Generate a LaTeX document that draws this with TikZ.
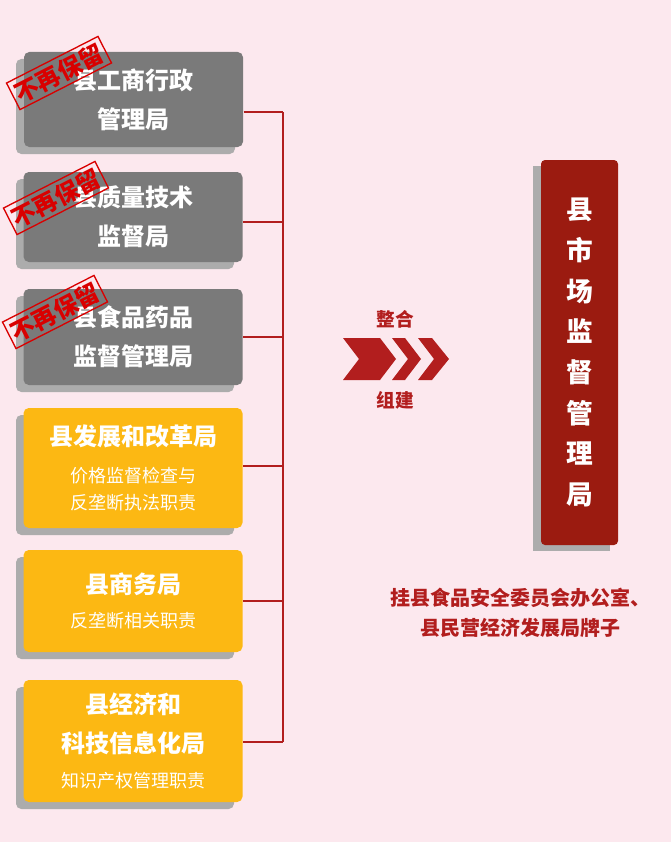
\documentclass[tikz,border=0pt]{standalone}
\usepackage{fontspec}
\newfontfamily\cjk{Noto Sans CJK SC}
\usetikzlibrary{positioning}
\definecolor{bgpink}{RGB}{252,232,238}
\definecolor{oldgray}{RGB}{122,122,122}
\definecolor{shadowgray}{RGB}{172,172,172}
\definecolor{deptyellow}{RGB}{252,184,19}
\definecolor{marketred}{RGB}{155,27,16}
\definecolor{linered}{RGB}{178,30,30}
\newcommand\dutysize{\mdseries\fontsize{13.5}{18}\selectfont}
\tikzset{
	oldbox/.style={rounded corners=4pt, fill=oldgray, text=white, minimum width=164.25pt, align=center, font=\cjk\bfseries\fontsize{18}{29}\selectfont},
	newbox/.style={oldbox, fill=deptyellow},
	boxshadow/.style={rounded corners=4pt, fill=shadowgray},
	stamp/.style={draw=red!85!black, line width=1pt, text=red!85!black, rotate=27, inner sep=2.5pt, font=\cjk\bfseries\fontsize{18}{18}\selectfont},
	bus/.style={draw=linered, line width=1.5pt}}
\tikzset{every picture/.style={line width=0.75pt}}

\begin{document}
\begin{tikzpicture}[x=0.75pt,y=0.75pt,yscale=-1,xscale=1]
	%background
	\fill[bgpink] (0,0) rectangle (671,842);
	\useasboundingbox (0,0) rectangle (671,842);

	%shadows
	\fill[boxshadow] (16,59) rectangle (235,154);
	\fill[boxshadow] (16,179) rectangle (234,269);
	\fill[boxshadow] (16,296) rectangle (234,392);
	\fill[boxshadow] (16,415) rectangle (234,535);
	\fill[boxshadow] (16,557) rectangle (234,659);
	\fill[boxshadow] (16,687) rectangle (234,809);
	\fill[shadowgray] (533,166) rectangle (610,551);

	%old departments
	\node[oldbox, minimum height=71.25pt] (gongshang) at (133.5,99.5) {县工商行政\\管理局};
	\node[oldbox, minimum height=67.5pt] (zhiliang) at (133,217) {县质量技术\\监督局};
	\node[oldbox, minimum height=72pt] (shiyao) at (133,337) {县食品药品\\监督管理局};

	%yellow departments
	\node[newbox, minimum height=90pt] (fagai) at (133,468) {县发展和改革局\\[-1pt]\dutysize 价格监督检查与\\[-9pt]\dutysize 反垄断执法职责};
	\node[newbox, minimum height=76.5pt] (shangwu) at (133,601) {县商务局\\[-3pt]\dutysize 反垄断相关职责};
	\node[newbox, minimum height=91.5pt] (jingxin) at (133,741) {县经济和\\科技信息化局\\[-3pt]\dutysize 知识产权管理职责};

	%stamps
	\node[stamp] (stampA) at (59,73) {不再保留};
	\node[stamp] (stampB) at (56,198) {不再保留};
	\node[stamp] (stampC) at (55,312) {不再保留};

	%bus
	\coordinate (busTop) at (283,112);
	\coordinate (busBot) at (283,742);
	\draw[bus] (busTop) -- (busBot);
	\foreach \dept/\yy in {gongshang/112, zhiliang/222, shiyao/337, fagai/466, shangwu/601, jingxin/742}
		\draw[bus] (\dept.east |- 0,\yy) -- (283,\yy);

	%chevrons
	\fill[linered] (343,338) -- (380,338) -- (396,359) -- (380,380) -- (343,380) -- (359,359) -- cycle;
	\fill[linered] (392,338) -- (405,338) -- (421,359) -- (405,380) -- (392,380) -- (408,359) -- cycle;
	\fill[linered] (418,338) -- (432,338) -- (449,359) -- (432,380) -- (418,380) -- (434,359) -- cycle;
	\node[text=linered, font=\cjk\bfseries\fontsize{14}{14}\selectfont] (zhenghe) at (395,319) {整合};
	\node[text=linered, font=\cjk\bfseries\fontsize{14}{14}\selectfont] (zujian) at (395,400) {组建};

	%market bureau
	\node[rounded corners=3pt, fill=marketred, text=white, minimum width=57.75pt, minimum height=288.75pt, align=center, font=\cjk\bfseries\fontsize{20}{30.5}\selectfont] (shichang) at (579.5,352.5) {县\\市\\场\\监\\督\\管\\理\\局};

	\node[text=linered, align=center, font=\cjk\bfseries\fontsize{15}{23}\selectfont, below=28pt of shichang.south, xshift=-44pt] (guapai) {挂县食品安全委员会办公室、\\县民营经济发展局牌子};
\end{tikzpicture}
\end{document}
